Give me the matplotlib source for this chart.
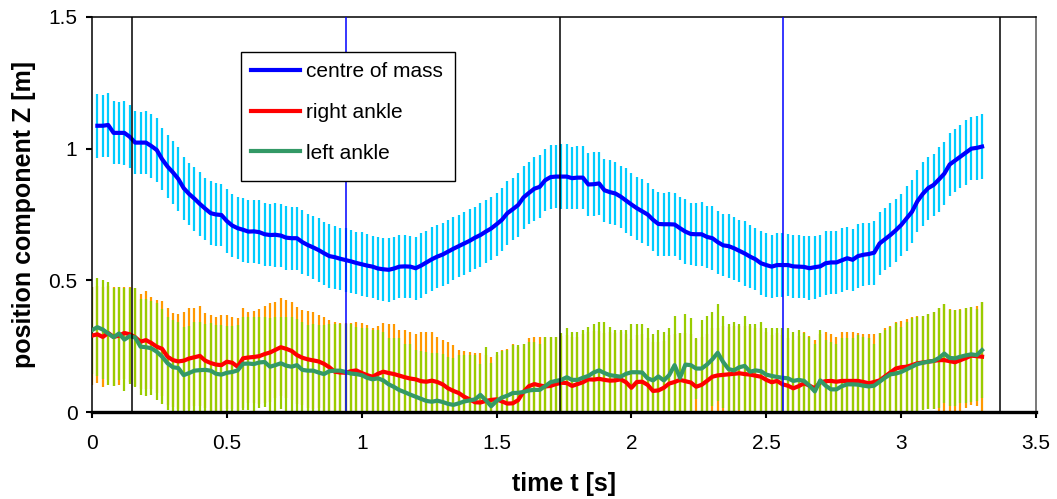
import numpy as np
import matplotlib
matplotlib.use("Agg")
import matplotlib.pyplot as plt
from matplotlib.patches import Rectangle

plt.rcParams['font.family'] = ['Liberation Sans', 'DejaVu Sans']

# sampling at 50 Hz
t_ankle = np.round(np.arange(166) * 0.02, 2)          # 0.00 ... 3.30 s
t_com = t_ankle[1:]                                    # 0.02 ... 3.30 s

com_mean = [
    1.087, 1.087, 1.09, 1.06, 1.06, 1.06, 1.045, 1.023, 1.023, 1.023,
    1.01, 0.995, 0.96, 0.932, 0.91, 0.885, 0.85, 0.828, 0.81, 0.79,
    0.772, 0.755, 0.75, 0.748, 0.725, 0.708, 0.698, 0.692, 0.685, 0.686,
    0.683, 0.675, 0.672, 0.673, 0.67, 0.662, 0.66, 0.66, 0.645, 0.634,
    0.625, 0.615, 0.603, 0.592, 0.588, 0.582, 0.577, 0.572, 0.566, 0.561,
    0.556, 0.552, 0.545, 0.542, 0.54, 0.545, 0.552, 0.553, 0.552, 0.546,
    0.556, 0.568, 0.58, 0.59, 0.598, 0.609, 0.62, 0.63, 0.64, 0.65,
    0.662, 0.672, 0.685, 0.697, 0.713, 0.73, 0.755, 0.77, 0.786, 0.815,
    0.832, 0.848, 0.855, 0.88, 0.892, 0.894, 0.894, 0.894, 0.888, 0.89,
    0.89, 0.864, 0.865, 0.868, 0.842, 0.835, 0.83, 0.818, 0.803, 0.788,
    0.774, 0.762, 0.75, 0.73, 0.714, 0.713, 0.713, 0.712, 0.698, 0.685,
    0.676, 0.675, 0.675, 0.665, 0.66, 0.645, 0.633, 0.63, 0.622, 0.612,
    0.602, 0.59, 0.58, 0.565, 0.558, 0.552, 0.558, 0.558, 0.558, 0.553,
    0.552, 0.551, 0.546, 0.55, 0.553, 0.565, 0.568, 0.568, 0.576, 0.584,
    0.578, 0.592, 0.597, 0.6, 0.605, 0.64, 0.656, 0.672, 0.69, 0.71,
    0.735, 0.76, 0.8, 0.828, 0.85, 0.862, 0.883, 0.905, 0.94, 0.955,
    0.97, 0.985, 1.0, 1.003, 1.008,
]
com_sd = [
    0.122, 0.118, 0.121, 0.12, 0.117, 0.122, 0.119, 0.121, 0.118, 0.12,
    0.122, 0.12, 0.118, 0.121, 0.119, 0.122, 0.12, 0.117, 0.121, 0.12,
    0.118, 0.122, 0.12, 0.119, 0.121, 0.12, 0.118, 0.122, 0.12, 0.119,
    0.121, 0.12, 0.118, 0.122, 0.12, 0.121, 0.119, 0.12, 0.122, 0.118,
    0.12, 0.121, 0.119, 0.122, 0.12, 0.118, 0.121, 0.12, 0.119, 0.122,
    0.12, 0.118, 0.121, 0.12, 0.122, 0.119, 0.12, 0.121, 0.118, 0.12,
    0.122, 0.119, 0.121, 0.12, 0.118, 0.122, 0.12, 0.119, 0.121, 0.12,
    0.118, 0.122, 0.12, 0.121, 0.119, 0.12, 0.122, 0.118, 0.12, 0.121,
    0.119, 0.122, 0.12, 0.118, 0.121, 0.12, 0.124, 0.122, 0.119, 0.12,
    0.121, 0.118, 0.122, 0.12, 0.119, 0.121, 0.12, 0.118, 0.122, 0.12,
    0.119, 0.121, 0.12, 0.118, 0.122, 0.12, 0.121, 0.119, 0.12, 0.122,
    0.118, 0.12, 0.121, 0.119, 0.122, 0.12, 0.118, 0.121, 0.12, 0.119,
    0.122, 0.12, 0.118, 0.121, 0.12, 0.119, 0.122, 0.12, 0.118, 0.121,
    0.12, 0.119, 0.122, 0.12, 0.118, 0.121, 0.12, 0.119, 0.122, 0.12,
    0.118, 0.121, 0.12, 0.119, 0.122, 0.12, 0.118, 0.121, 0.12, 0.119,
    0.122, 0.12, 0.118, 0.121, 0.12, 0.119, 0.122, 0.12, 0.118, 0.121,
    0.12, 0.122, 0.119, 0.121, 0.124,
]

right_mean = [
    0.29, 0.295, 0.285, 0.30, 0.285, 0.29, 0.30, 0.295, 0.284, 0.267,
    0.273, 0.262, 0.248, 0.24, 0.21, 0.197, 0.192, 0.195, 0.203, 0.208,
    0.213, 0.195, 0.186, 0.18, 0.178, 0.191, 0.187, 0.172, 0.204, 0.207,
    0.209, 0.212, 0.22, 0.226, 0.236, 0.246, 0.24, 0.232, 0.216, 0.206,
    0.2, 0.196, 0.192, 0.183, 0.17, 0.153, 0.15, 0.149, 0.155, 0.158,
    0.148, 0.14, 0.134, 0.145, 0.153, 0.148, 0.144, 0.138, 0.132, 0.127,
    0.124, 0.117, 0.115, 0.119, 0.114, 0.105, 0.09, 0.08, 0.072, 0.058,
    0.048, 0.037, 0.036, 0.042, 0.046, 0.048, 0.04, 0.032, 0.033, 0.045,
    0.077, 0.098, 0.106, 0.101, 0.097, 0.099, 0.106, 0.111, 0.11, 0.099,
    0.106, 0.113, 0.124, 0.123, 0.126, 0.122, 0.119, 0.12, 0.124, 0.113,
    0.092, 0.114, 0.115, 0.103, 0.08, 0.082, 0.092, 0.108, 0.114, 0.122,
    0.117, 0.112, 0.096, 0.103, 0.118, 0.134, 0.139, 0.141, 0.143, 0.145,
    0.147, 0.144, 0.142, 0.138, 0.134, 0.122, 0.113, 0.118, 0.105, 0.1,
    0.09, 0.098, 0.109, 0.1, 0.09, 0.113, 0.117, 0.118, 0.115, 0.118,
    0.118, 0.118, 0.118, 0.114, 0.109, 0.114, 0.12, 0.135, 0.15, 0.165,
    0.17, 0.172, 0.178, 0.185, 0.188, 0.191, 0.194, 0.197, 0.197, 0.193,
    0.189, 0.197, 0.205, 0.214, 0.212, 0.21,
]
right_sd = [
    0.186, 0.184, 0.19, 0.178, 0.188, 0.186, 0.176, 0.181, 0.186, 0.18,
    0.187, 0.176, 0.177, 0.18, 0.184, 0.178, 0.182, 0.186, 0.191, 0.186,
    0.191, 0.18, 0.183, 0.179, 0.19, 0.178, 0.175, 0.184, 0.19, 0.174,
    0.176, 0.18, 0.184, 0.187, 0.183, 0.186, 0.185, 0.187, 0.184, 0.181,
    0.183, 0.185, 0.178, 0.179, 0.18, 0.19, 0.188, 0.188, 0.183, 0.182,
    0.189, 0.19, 0.184, 0.18, 0.184, 0.185, 0.189, 0.173, 0.178, 0.176,
    0.171, 0.186, 0.188, 0.184, 0.17, 0.168, 0.177, 0.175, 0.163, 0.174,
    0.179, 0.186, 0.187, 0.175, 0.164, 0.17, 0.195, 0.208, 0.224, 0.203,
    0.18, 0.182, 0.18, 0.185, 0.188, 0.186, 0.18, 0.176, 0.181, 0.184,
    0.178, 0.183, 0.18, 0.186, 0.182, 0.179, 0.185, 0.181, 0.178, 0.184,
    0.186, 0.18, 0.183, 0.178, 0.184, 0.182, 0.179, 0.185, 0.181, 0.178,
    0.183, 0.186, 0.18, 0.182, 0.179, 0.184, 0.181, 0.185, 0.18, 0.183,
    0.178, 0.182, 0.186, 0.18, 0.184, 0.181, 0.179, 0.183, 0.186, 0.18,
    0.185, 0.19, 0.194, 0.187, 0.183, 0.182, 0.186, 0.177, 0.168, 0.185,
    0.185, 0.185, 0.181, 0.183, 0.186, 0.182, 0.18, 0.183, 0.178, 0.177,
    0.176, 0.18, 0.184, 0.181, 0.178, 0.18, 0.184, 0.197, 0.212, 0.2,
    0.198, 0.196, 0.19, 0.186, 0.19, 0.206,
]

left_mean = [
    0.311, 0.322, 0.313, 0.298, 0.284, 0.298, 0.275, 0.288, 0.283, 0.248,
    0.246, 0.242, 0.229, 0.21, 0.185, 0.17, 0.167, 0.14, 0.148, 0.157,
    0.159, 0.16, 0.157, 0.145, 0.142, 0.149, 0.152, 0.158, 0.183, 0.184,
    0.182, 0.188, 0.19, 0.172, 0.178, 0.185, 0.176, 0.172, 0.178, 0.16,
    0.157, 0.157, 0.15, 0.144, 0.155, 0.157, 0.157, 0.152, 0.146, 0.144,
    0.14, 0.13, 0.124, 0.128, 0.12, 0.105, 0.095, 0.083, 0.075, 0.066,
    0.058, 0.05, 0.042, 0.039, 0.043, 0.038, 0.031, 0.027, 0.033, 0.04,
    0.044, 0.048, 0.065, 0.045, 0.022, 0.042, 0.055, 0.062, 0.072, 0.073,
    0.076, 0.082, 0.084, 0.084, 0.098, 0.113, 0.118, 0.122, 0.132, 0.122,
    0.122, 0.13, 0.137, 0.15, 0.158, 0.148, 0.14, 0.137, 0.134, 0.145,
    0.151, 0.151, 0.15, 0.128, 0.12, 0.135, 0.12, 0.14, 0.178, 0.13,
    0.18, 0.178, 0.165, 0.165, 0.18, 0.2, 0.225, 0.19, 0.163, 0.158,
    0.17, 0.175, 0.153, 0.158, 0.155, 0.142, 0.137, 0.133, 0.13, 0.128,
    0.118, 0.122, 0.118, 0.1, 0.078, 0.12, 0.1, 0.086, 0.086, 0.098,
    0.105, 0.105, 0.104, 0.1, 0.097, 0.1, 0.115, 0.13, 0.143, 0.146,
    0.152, 0.162, 0.172, 0.182, 0.187, 0.191, 0.194, 0.205, 0.222, 0.205,
    0.204, 0.21, 0.215, 0.219, 0.216, 0.235,
]
left_sd = [
    0.165, 0.185, 0.187, 0.197, 0.186, 0.178, 0.195, 0.182, 0.187, 0.182,
    0.184, 0.178, 0.184, 0.18, 0.177, 0.18, 0.176, 0.184, 0.178, 0.186,
    0.182, 0.175, 0.18, 0.184, 0.188, 0.179, 0.176, 0.172, 0.177, 0.176,
    0.178, 0.173, 0.172, 0.186, 0.181, 0.175, 0.184, 0.188, 0.176, 0.18,
    0.173, 0.176, 0.182, 0.186, 0.178, 0.178, 0.176, 0.182, 0.187, 0.178,
    0.18, 0.188, 0.186, 0.182, 0.184, 0.177, 0.185, 0.197, 0.182, 0.191,
    0.177, 0.18, 0.185, 0.184, 0.18, 0.181, 0.179, 0.177, 0.183, 0.176,
    0.172, 0.168, 0.116, 0.2, 0.163, 0.187, 0.177, 0.173, 0.182, 0.181,
    0.181, 0.185, 0.183, 0.176, 0.188, 0.173, 0.165, 0.178, 0.186, 0.181,
    0.181, 0.181, 0.187, 0.183, 0.182, 0.192, 0.184, 0.174, 0.177, 0.166,
    0.182, 0.182, 0.183, 0.19, 0.175, 0.176, 0.183, 0.178, 0.188, 0.17,
    0.191, 0.178, 0.115, 0.185, 0.186, 0.178, 0.184, 0.176, 0.17, 0.182,
    0.163, 0.191, 0.18, 0.175, 0.185, 0.176, 0.181, 0.185, 0.188, 0.19,
    0.185, 0.189, 0.181, 0.186, 0.182, 0.191, 0.173, 0.179, 0.171, 0.182,
    0.175, 0.175, 0.188, 0.183, 0.183, 0.16, 0.184, 0.181, 0.181, 0.191,
    0.172, 0.181, 0.186, 0.18, 0.179, 0.18, 0.184, 0.189, 0.187, 0.182,
    0.183, 0.177, 0.18, 0.181, 0.174, 0.181,
]

# gait event markers (s)
events_black = [0.148, 1.735, 3.367]
events_blue = [0.942, 2.562]

series_labels = ["centre of mass", "right ankle", "left ankle"]
x_ticks = [0, 0.5, 1, 1.5, 2, 2.5, 3, 3.5]
y_ticks = [0, 0.5, 1, 1.5]

W, H = 1057, 499
fig = plt.figure(figsize=(W / 100, H / 100), dpi=100)
ax = fig.add_axes([92 / W, 87 / H, 944 / W, 395 / H])

bar_kw = dict(fmt='none', elinewidth=1.6, capsize=0)
ax.errorbar(t_com, com_mean, yerr=com_sd, ecolor='#00CCFF', zorder=2, **bar_kw)
ax.errorbar(t_ankle, right_mean, yerr=right_sd, ecolor='#FF9900', zorder=2.1, **bar_kw)
ax.errorbar(t_ankle, left_mean, yerr=left_sd, ecolor='#99CC00', zorder=2.2, **bar_kw)

l_com, = ax.plot(t_com, com_mean, color='#0000FF', lw=3.0, zorder=3, label=series_labels[0])
l_right, = ax.plot(t_ankle, right_mean, color='#FF0000', lw=3.0, zorder=3, label=series_labels[1])
l_left, = ax.plot(t_ankle, left_mean, color='#339966', lw=3.0, zorder=3.1, label=series_labels[2])

for xv in events_black:
    ax.axvline(xv, color='black', lw=1.1, zorder=4)
for xv in events_blue:
    ax.axvline(xv, color='#0000FF', lw=1.1, zorder=4)

ax.set_xlim(0, 3.5)
ax.set_ylim(0, 1.5)
ax.set_xticks(x_ticks)
ax.set_xticklabels([f"{v:g}" for v in x_ticks])
ax.set_yticks(y_ticks)
ax.set_yticklabels([f"{v:g}" for v in y_ticks])
ax.tick_params(axis='both', direction='out', length=4.5, width=1.5, labelsize=15, colors='black')
ax.tick_params(axis='x', pad=11)
ax.tick_params(axis='y', pad=6)

for side in ['top', 'left']:
    ax.spines[side].set_linewidth(1.1)
    ax.spines[side].set_color('black')
ax.spines['right'].set_linewidth(1.1)
ax.spines['right'].set_color('#555555')
ax.spines['bottom'].set_linewidth(2.4)
ax.spines['bottom'].set_color('black')
ax.spines['bottom'].set_zorder(5)

ax.set_xlabel("time t [s]", fontsize=18, fontweight='bold')
ax.set_ylabel("position component Z [m]", fontsize=18, fontweight='bold')
ax.xaxis.set_label_coords(0.5, -0.152)
ax.yaxis.set_label_coords(-0.059, 0.5)

# legend box
box_l, box_r, box_t, box_b = 241, 455, 52, 181
ax.add_patch(Rectangle(((box_l - 92) / 944, (412 - box_b) / 395),
                       (box_r - box_l) / 944, (box_b - box_t) / 395,
                       transform=ax.transAxes, facecolor='white',
                       edgecolor='black', lw=1.0, zorder=6))
leg = ax.legend(handles=[l_com, l_right, l_left], loc='upper left',
                bbox_to_anchor=((box_l - 92) / 944, (412 - box_t) / 395),
                borderaxespad=0, fontsize=15, handlelength=2.35,
                handletextpad=0.25, labelspacing=1.04, borderpad=0.5,
                frameon=False)
leg.set_zorder(7)

fig.savefig("out.png", dpi=100)
